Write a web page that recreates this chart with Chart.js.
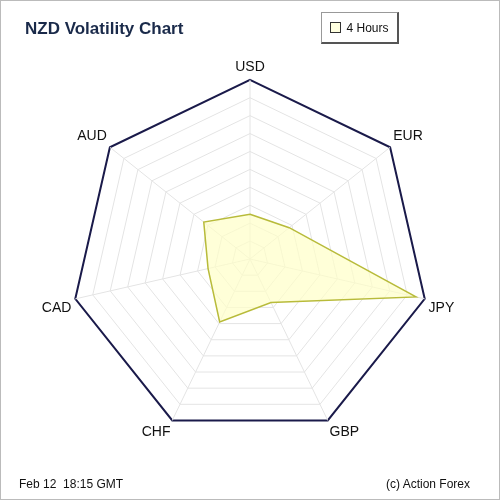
<!DOCTYPE html>
<html><head><meta charset="utf-8">
<script src="https://cdn.jsdelivr.net/npm/chart.js@4"></script>
<style>
body{margin:0;background:#fff;font-family:"Liberation Sans",Arial,sans-serif;}
#wrap{position:relative;width:498px;height:498px;border:1px solid #bbb;}
#title{position:absolute;left:24px;top:18px;font-weight:bold;font-size:17px;color:#1a2a4a;}
#btn{position:absolute;left:320px;top:11px;width:78px;height:32px;border:1px solid #999;border-right:2px solid #555;border-bottom:2px solid #555;box-sizing:border-box;font-size:12px;line-height:30px;text-align:center;color:#111;}
#btn span{display:inline-block;width:9px;height:9px;border:1px solid #333;background:#ffffe0;margin-right:5px;vertical-align:-1px;}
#foot1{position:absolute;left:18px;top:476px;font-size:12px;color:#111;}
#foot2{position:absolute;right:29px;top:476px;font-size:12px;color:#111;}
canvas{position:absolute;left:0;top:0;}
</style></head><body>
<div id="wrap">
<canvas id="c" width="498" height="498"></canvas>
<div id="title">NZD Volatility Chart</div>
<div id="btn"><span></span>4 Hours</div>
<div id="foot1">Feb 12&nbsp; 18:15 GMT</div>
<div id="foot2">(c) Action Forex</div>
</div>
<script>
const categories=["USD","EUR","JPY","GBP","CHF","CAD","AUD"];
const values=[0.25,0.28,0.95,0.27,0.39,0.24,0.33];
new Chart(document.getElementById('c'),{
 type:'radar',
 data:{labels:categories,datasets:[{data:values,backgroundColor:'rgba(255,255,200,0.7)',borderColor:'#b8bb3a',borderWidth:1.5,pointRadius:0}]},
 options:{responsive:false,animation:false,
  layout:{padding:{top:48,bottom:50,left:14,right:14}},
  plugins:{legend:{display:false},tooltip:{enabled:false}},
  scales:{r:{min:0,max:1,
   ticks:{display:false,stepSize:0.1},
   grid:{color:ctx=>ctx.index===10?'#1a1a4a':'#e4e4e4',lineWidth:ctx=>ctx.index===10?2:1},
   angleLines:{color:'#e4e4e4'},
   pointLabels:{font:{size:14,family:'Liberation Sans'},color:'#111',padding:4}
  }}}
});
</script>
</body></html>
